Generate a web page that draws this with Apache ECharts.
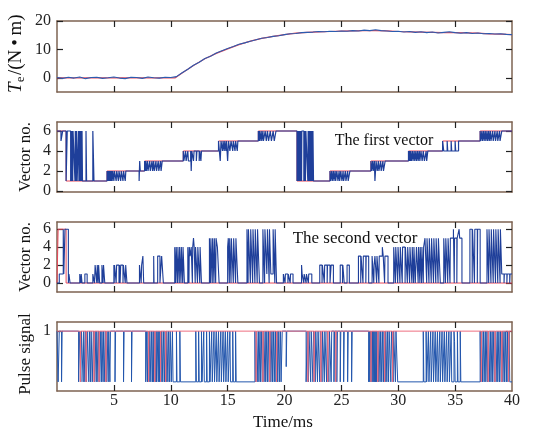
<!DOCTYPE html>
<html><head><meta charset="utf-8">
<script src="https://cdn.jsdelivr.net/npm/echarts@6/dist/echarts.min.js"></script>
<style>html,body{margin:0;padding:0;background:#fff}#c{width:555px;height:433px}</style>
</head><body><div id="c"></div>
<script>
// ---- data ----
var xTickLabels = [5,10,15,20,25,30,35,40];
var torqueTicks = [0,10,20];
var vectorTicks = [0,2,4,6];
var pulseTicks = [1];

var torqueBlue = [[0,0.1],[0.5,-0.2],[1,0.2],[1.5,-0.1],[2,0.3],[2.5,-0.3],[3,0.1],[3.5,0.2],[4,-0.2],[4.5,0.0],[5,0.3],[5.5,-0.1],[6,-0.3],[6.5,0.2],[7,0.1],[7.5,-0.2],[8,0.3],[8.5,0.0],[9,-0.1],[9.5,0.2],[10,0.1],[10.5,0.4],[11,1.8],[11.5,3.0],[12,4.4],[12.5,5.5],[13,6.8],[13.5,7.6],[14,8.7],[14.5,9.5],[15,10.3],[15.5,11.0],[16,11.8],[16.5,12.3],[17,12.9],[17.5,13.4],[18,13.9],[18.5,14.2],[19,14.6],[19.5,14.8],[20,15.2],[20.5,15.5],[21,15.6],[21.5,15.9],[22,16.0],[22.5,16.1],[23,16.3],[23.5,16.2],[24,16.4],[24.5,16.3],[25,16.5],[25.5,16.4],[26,16.6],[26.5,16.5],[27,16.8],[27.5,16.6],[28,16.9],[28.5,16.6],[29,16.5],[29.5,16.3],[30,16.4],[30.5,16.1],[31,16.3],[31.5,16.0],[32,16.2],[32.5,15.9],[33,16.1],[33.5,15.8],[34,16.0],[34.5,16.2],[35,15.9],[35.5,15.7],[36,15.9],[36.5,15.6],[37,15.8],[37.5,15.5],[38,15.6],[38.5,15.4],[39,15.5],[39.5,15.3],[40,15.2]];
var torqueRed = [[0,0],[10.4,0],[11,1.7],[12,4.3],[13,6.7],[14,8.6],[15,10.2],[16,11.7],[17,12.9],[18,13.9],[19,14.6],[20,15.2],[21,15.7],[22,16.0],[23,16.2],[24,16.3],[25,16.4],[26,16.5],[27,16.6],[28,16.6],[29,16.5],[30,16.3],[31,16.2],[32,16.1],[33,16.0],[34,15.9],[35,15.9],[36,15.8],[37,15.7],[38,15.5],[39,15.4],[40,15.2]];

var vec1Blue = [[0,6],[0.35,5],[0.5,6],
[0.8,1],[0.9,6],[1.2,1],[1.23,6],[1.26,1],[1.29,6],[1.32,1],[1.35,6],[1.38,1],[1.41,6],[1.58,1],[1.61,6],[1.64,1],[1.67,6],[1.7,1],[1.73,6],[1.77,1],[1.9,6],[1.93,1],[1.96,6],[1.99,1],[2.02,6],[2.05,1],[2.08,6],[2.11,1],[2.14,6],[2.17,1],[2.2,6],[2.24,1],
[2.55,6],[2.6,1],[3.15,6],[3.25,1],
[4.4,2],[4.45,1],[4.5,2],[4.55,1],[4.6,2],[4.65,1],[4.7,2],[4.75,1],[4.8,2],[4.85,1],[4.9,2],[5.0,1],[5.05,2],[5.2,1],[5.25,2],[5.4,1],[5.45,2],[5.6,1],[5.65,2],[5.8,1],[5.85,2],[6.0,1],[6.05,2],
[7.22,1],[7.27,3],[7.32,2],
[7.7,3],[7.75,2],[7.8,3],[7.85,2],[7.95,3],[8.0,2],[8.15,3],[8.2,2],[8.35,3],[8.4,2],[8.5,3],[8.55,2],[8.7,3],[8.75,2],[8.9,3],[8.95,2],[9.1,3],[9.15,2],[9.25,3],
[11.1,4],[11.15,3],[11.3,4],[11.35,3],[11.5,4],[11.55,3],[11.75,4],[11.8,2],[11.85,4],[12.0,3],[12.05,4],[12.25,3],[12.3,4],[12.5,3],[12.55,4],[12.65,3],[12.7,4],
[14.2,5],[14.35,3],[14.42,5],[14.55,4],[14.6,5],[14.7,4],[14.75,5],[14.85,4],[14.9,5],[15.0,3],[15.08,5],[15.2,4],[15.3,5],[15.45,4],[15.5,5],[15.65,4],[15.7,5],[15.85,4],[15.9,5],
[17.7,6],[17.75,5],[17.8,6],[17.85,5],[17.95,6],[18.0,5],[18.1,6],[18.15,5],[18.3,6],[18.4,5],[18.5,6],[18.6,5],[18.75,6],[18.85,5],[19.0,6],[19.1,5],[19.25,6],
[21.1,1],[21.13,6],[21.16,1],[21.2,6],[21.23,1],[21.27,6],[21.3,1],[21.34,6],[21.37,1],[21.41,6],[21.44,1],[21.48,6],[21.5,1],[21.52,6],[21.7,1],[21.73,6],[21.77,1],[21.8,6],[21.84,1],[21.88,6],[22.05,1],[22.08,6],[22.11,1],[22.14,6],[22.17,1],[22.2,6],[22.23,1],[22.26,6],[22.29,1],[22.32,6],[22.35,1],[22.38,6],[22.41,1],[22.44,6],[22.47,1],[22.5,6],[22.55,1],
[24.0,2],[24.05,1],[24.15,2],[24.2,1],[24.3,2],[24.35,1],[24.45,2],[24.5,1],[24.6,2],[24.7,1],[24.8,2],[24.85,1],[24.95,2],[25.05,1],[25.15,2],[25.2,1],[25.35,2],[25.4,1],[25.55,2],[25.6,1],[25.75,2],
[27.6,3],[27.65,2],[27.75,3],[27.8,2],[27.9,3],[27.95,1],[28.05,3],[28.15,2],[28.25,3],[28.3,2],[28.45,3],[28.5,2],[28.65,3],[28.7,2],[28.85,3],
[30.9,4],[30.95,3],[31.0,4],[31.05,3],[31.1,4],[31.15,3],[31.25,4],[31.3,3],[31.4,4],[31.45,3],[31.55,4],[31.6,3],[31.7,4],[31.75,3],[31.85,4],[31.9,3],[32.0,4],[32.1,3],[32.2,4],[32.3,3],[32.45,4],[32.5,3],[32.6,4],
[33.9,5],[34.0,4],[34.3,5],[34.35,4],[34.65,5],[34.7,4],[35.0,5],[35.05,4],[35.3,5],
[37.2,6],[37.25,5],[37.35,6],[37.4,5],[37.5,6],[37.55,5],[37.65,6],[37.7,5],[37.8,6],[37.85,5],[37.95,6],[38.0,5],[38.1,6],[38.15,5],[38.3,6],[38.35,5],[38.5,6],[38.55,5],[38.7,6],[38.75,5],[38.9,6],[38.95,5],[39.1,6],[40,6]];
var vec1Red = [[0,6],[0.8,1],[4.4,2],[7.7,3],[11.1,4],[14.2,5],[17.7,6],[21.1,1],[24,2],[27.6,3],[30.9,4],[33.9,5],[37.2,6],[40,6]];

var vec2Blue = [[0,0],[0.2,1],[0.55,6],[0.6,1],[0.7,6],[1.0,0],[1.05,1],[1.15,0],
[2.0,1],[2.1,0],[2.13,1],[2.2,0],[2.45,1],[2.65,0],
[3.15,1],[3.3,0],[3.35,2],[3.5,0],[3.54,2],[3.62,0],[3.66,2],[3.75,0],[3.95,2],[4.05,0],[4.09,2],[4.2,0],
[5.0,2],[5.03,0],[5.06,2],[5.2,0],[5.24,2],[5.45,0],[5.49,2],[5.55,0],[5.6,2],[5.8,0],[5.84,2],[6.0,0],[6.04,2],[6.15,0],
[7.25,2],[7.4,0],[7.44,2],[7.55,3],[7.62,0],
[8.5,3],[8.53,0],[8.85,3],[9.05,0],[9.2,3],[9.35,0],
[10.35,4],[10.45,0],[10.48,4],[10.6,0],[10.63,4],[10.75,0],[10.78,4],[10.9,0],[10.93,4],[11.05,0],[11.08,4],[11.2,0],
[11.5,4],[11.6,0],[11.63,4],[11.7,3],[11.8,4],[11.9,0],[11.93,4],[12.0,5],[12.06,4],[12.15,0],[12.18,4],[12.35,0],[12.38,4],[12.55,0],[12.58,4],[12.7,0],
[13.4,5],[13.5,0],[13.53,5],[13.65,0],[13.68,5],[13.8,0],[13.83,5],[13.95,0],[13.98,5],[14.1,4],[14.25,0],
[15.0,4],[15.06,5],[15.15,0],[15.18,5],[15.3,0],[15.33,5],[15.5,0],[15.53,5],[15.7,0],[15.73,5],[15.9,0],
[16.7,6],[16.8,0],[16.83,6],[17.0,0],[17.03,6],[17.2,0],[17.23,6],[17.4,0],[17.43,6],[17.6,0],[17.63,6],[17.8,0],
[18.1,6],[18.25,0],[18.28,6],[18.45,1],[18.5,6],[18.65,0],[18.68,6],[18.8,1],[19.0,6],[19.15,0],[19.18,6],[19.3,0],
[19.9,1],[20.05,0],[20.08,1],[20.3,0],[20.33,1],[20.5,0],[20.53,1],[20.75,0],
[21.5,2],[21.55,1],[21.7,0],[21.73,1],[21.9,0],[21.93,1],[22.1,0],[22.13,1],[22.4,0],
[23.1,2],[23.3,0],[23.33,2],[23.5,0],[23.53,2],[23.75,0],[23.78,2],[24.0,0],[24.1,2],[24.3,0],
[24.9,2],[25.1,0],[25.13,2],[25.25,0],[25.5,2],[25.7,0],
[26.5,3],[26.7,0],[26.73,3],[26.9,0],[26.93,3],[27.15,0],[27.18,3],[27.4,0],
[27.7,3],[27.85,0],[27.88,2],[27.95,3],[28.1,0],[28.13,3],[28.3,0],[28.33,3],[28.6,4],[28.68,3],[28.8,0],[28.83,3],[29.1,0],
[29.6,4],[29.75,0],[29.78,4],[29.95,0],[29.98,4],[30.15,0],[30.18,4],[30.35,0],[30.38,4],[30.6,0],[30.63,4],[30.8,0],[30.83,4],[31.0,0],[31.03,4],[31.2,0],[31.23,4],[31.35,0],[31.38,4],[31.5,0],
[31.6,4],[31.75,0],[31.78,4],[31.9,0],[31.93,4],[32.05,0],[32.08,4],[32.2,0],[32.23,4],[32.35,5],[32.5,0],[32.53,5],[32.7,0],[32.73,5],[32.9,0],[32.93,5],[33.1,0],[33.13,5],[33.3,0],[33.33,5],[33.5,0],[33.53,5],[33.7,0],
[34.0,5],[34.15,0],[34.18,5],[34.35,0],[34.38,5],[34.55,0],[34.58,5],[34.85,6],[34.92,0],[34.95,5],[35.15,0],[35.18,5],[35.35,6],[35.4,5],[35.6,0],
[36.3,6],[36.5,0],[36.53,6],[36.7,0],[36.73,6],[36.95,0],[36.98,6],[37.2,0],
[37.8,6],[37.95,0],[37.98,6],[38.15,0],[38.18,6],[38.35,0],[38.38,6],[38.55,0],[38.58,6],[38.75,0],[38.78,6],[38.95,0],[38.98,6],[39.1,1],[39.3,0],[39.33,1],[39.55,0],[39.58,1],[39.8,0],[39.83,1],[40,1]];
var vec2Red = [[0,0],[0.1,6],[0.8,0],[40,0]];

var pulseBlue = [[0,1],[0.1,0],[0.2,1],[0.4,0],[0.45,1],
[1.9,0],[1.95,1],[2.1,0],[2.15,1],[2.3,0],[2.35,1],[2.45,0],[2.5,1],[2.6,0],[2.65,1],[2.8,0],[2.85,1],[2.95,0],[3.0,1],[3.1,0],[3.2,1],[3.3,0],[3.35,1],[3.45,0],[3.5,1],[3.6,0],[3.65,1],[3.75,0],[3.8,1],[3.9,0],[3.95,1],[4.05,0],[4.1,1],[4.2,0],[4.25,1],[4.35,0],[4.4,1],[4.5,0],[4.55,1],[4.65,0],[4.7,1],
[5.1,0],[5.15,1],[5.85,0],[5.9,1],[6.55,0],[6.6,1],
[7.8,0],[7.85,1],[7.95,0],[8.0,1],[8.1,0],[8.15,1],[8.25,0],[8.3,1],[8.4,0],[8.45,1],[8.5,0],[8.55,1],[8.65,0],[8.7,1],[8.75,0],[8.8,1],[8.9,0],[8.95,1],[9.0,0],[9.05,1],[9.15,0],[9.2,1],[9.3,0],[9.35,1],[9.45,0],[9.5,1],[9.6,0],[9.65,1],[9.75,0],[9.8,1],[9.9,0],[9.95,1],[10.05,0],
[10.15,1],[10.2,0],[10.5,1],[10.55,0],[10.8,1],[10.85,0],
[12.2,1],[12.25,0],[12.45,1],[12.5,0],[12.7,1],[12.75,0],[12.9,1],[12.95,0],[13.15,1],[13.2,0],[13.4,1],[13.45,0],[13.6,1],[13.65,0],[13.8,1],[13.85,0],[14.0,1],[14.05,0],[14.2,1],[14.25,0],[14.4,1],[14.45,0],[14.6,1],[14.65,0],[14.8,1],[14.85,0],[15.0,1],[15.05,0],[15.2,1],[15.25,0],[15.45,1],[15.5,0],[15.7,1],[15.75,0],
[17.4,1],[17.45,0],[17.55,1],[17.6,0],[17.7,1],[17.75,0],[17.85,1],[17.9,0],[18.0,1],[18.05,0],[18.15,1],[18.2,0],[18.3,1],[18.35,0],[18.45,1],[18.5,0],[18.6,1],[18.65,0],[18.75,1],[18.8,0],[18.9,1],[18.95,0],[19.05,1],[19.1,0],[19.2,1],[19.25,0],[19.35,1],[19.4,0],[19.5,1],[19.55,0],[19.65,1],[19.7,0],[19.8,1],
[20.15,0.3],[20.2,1],
[21.9,0],[22.0,1],[22.1,0],[22.15,1],[22.3,0],[22.35,1],[22.5,0],[22.55,1],[22.7,0],[22.75,1],[22.9,0],[22.95,1],[23.1,0],[23.15,1],[23.3,0],[23.35,1],[23.5,0],[23.55,1],[23.7,0],[23.75,1],[23.9,0],[23.95,1],[24.1,0],[24.15,1],[24.35,0],[24.4,1],[24.6,0],[24.65,1],[24.9,0],[24.95,1],[25.2,0],[25.25,1],[25.55,0],[25.6,1],[25.9,0],[25.95,1],
[27.4,0],[27.45,1],[27.5,0],[27.55,1],[27.6,0],[27.65,1],[27.7,0],[27.75,1],[27.8,0],[27.85,1],[27.9,0],[27.95,1],[28.0,0],[28.05,1],[28.1,0],[28.15,1],[28.25,0],[28.3,1],[28.4,0],[28.45,1],[28.55,0],[28.6,1],[28.7,0],[28.75,1],[28.85,0],[28.9,1],[29.0,0],[29.05,1],[29.15,0],[29.2,1],[29.35,0],[29.4,1],[29.55,0],[29.6,1],[29.75,0],[29.8,1],[29.95,0],
[32.2,1],[32.25,0],[32.45,1],[32.5,0],[32.65,1],[32.7,0],[32.85,1],[32.9,0],[33.05,1],[33.1,0],[33.25,1],[33.3,0],[33.45,1],[33.5,0],[33.65,1],[33.7,0],[33.85,1],[33.9,0],[34.05,1],[34.1,0],[34.25,1],[34.3,0],[34.45,1],[34.5,0],[34.65,1],[34.7,0],[34.9,1],[34.95,0.8],[35.0,0],[35.2,1],[35.25,0],[35.45,1],[35.5,0],
[37.2,1],[37.25,0],[37.35,1],[37.4,0],[37.5,1],[37.55,0],[37.65,1],[37.7,0],[37.8,1],[37.85,0],[37.95,1],[38.0,0],[38.1,1],[38.15,0],[38.25,1],[38.3,0],[38.4,1],[38.45,0],[38.55,1],[38.6,0],[38.7,1],[38.75,0],[38.85,1],[38.9,0],[39.0,1],[39.05,0],[39.15,1],[39.2,0],[39.3,1],[39.35,0],[39.45,1],[39.5,0],[39.6,1],[39.65,0],[39.75,1],[39.8,0],[40,0]];
var pulseRed = [[0,1],[2.05,0],[2.08,1],[2.55,0],[2.58,1],[3.25,0],[3.28,1],[3.7,0],[3.73,1],[4.3,0],[4.33,1],
[8.05,0],[8.08,1],[8.6,0],[8.63,1],[9.1,0],[9.13,1],[9.55,0],[9.58,1],
[17.5,0],[17.53,1],[18.1,0],[18.13,1],[18.7,0],[18.73,1],[19.3,0],[19.33,1],
[22.05,0],[22.08,1],[22.6,0],[22.63,1],[23.2,0],[23.23,1],[23.8,0],[23.83,1],[24.5,0],[24.53,1],
[27.6,0],[27.63,1],[28.2,0],[28.23,1],[28.8,0],[28.83,1],[29.5,0],[29.53,1],
[37.3,0],[37.33,1],[37.9,0],[37.93,1],[38.5,0],[38.53,1],[39.1,0],[39.13,1],[39.7,0],[39.73,1],[40,1]];

// ---- layout ----
var FONT = '"Liberation Serif","DejaVu Serif",serif';
var FRAME = '#7d6352';
var BLUE = '#1f3f9a';
var RED = '#e8485a';
var grids = [
  {left:57, right:43, top:21, height:71},
  {left:57, right:43, top:122, height:70},
  {left:57, right:43, top:222, height:70},
  {left:57, right:43, top:322, height:69}
];
var yRanges = [[-5,20],[-0.1,6.9],[-1,6.8],[-0.18,1.18]];
var yTicks = [torqueTicks, vectorTicks, vectorTicks, pulseTicks];

var xAxes = [], yAxes = [];
grids.forEach(function(g, i){
  ['bottom','top'].forEach(function(pos){
    xAxes.push({
      type:'value', gridIndex:i, position:pos, min:0, max:40, interval:5,
      axisLine:{show:true, onZero:false, lineStyle:{color:FRAME, width:1.5}},
      axisTick:{show:true, inside:true, length:6, lineStyle:{color:'#222', width:1.2}, customValues:[5,10,15,20,25,30,35]},
      axisLabel:{show:(i===3 && pos==='bottom'), margin:2, color:'#222', fontFamily:FONT, fontSize:16, customValues:xTickLabels},
      splitLine:{show:false}
    });
  });
  ['left','right'].forEach(function(pos){
    yAxes.push({
      type:'value', gridIndex:i, position:pos, min:yRanges[i][0], max:yRanges[i][1],
      axisLine:{show:true, onZero:false, lineStyle:{color:FRAME, width:1.5}},
      axisTick:{show:true, inside:true, length:6, lineStyle:{color:'#222', width:1.2}, customValues:yTicks[i]},
      axisLabel:{show:pos==='left', margin:6, color:'#222', fontFamily:FONT, fontSize:16, customValues:yTicks[i]},
      splitLine:{show:false}
    });
  });
});

function mk(data, color, width, gi, z, step){
  return {type:'line', xAxisIndex:gi*2, yAxisIndex:gi*2, data:data, step:step, symbol:'none',
    lineStyle:{color:color, width:width}, z:z, animation:false, silent:true};
}
var series = [
  mk(torqueRed, RED, 1.2, 0, 2, false),
  mk(torqueBlue, '#2a5cb0', 1.1, 0, 3, false),
  mk(vec1Red, RED, 1, 1, 2, 'end'),
  mk(vec1Blue, BLUE, 1.2, 1, 3, 'end'),
  mk(vec2Red, RED, 1, 2, 2, 'end'),
  mk(vec2Blue, BLUE, 1.1, 2, 3, 'end'),
  mk(pulseRed, '#ee6f80', 1, 3, 4, 'end'),
  mk(pulseBlue, '#2356ad', 1, 3, 3, 'end')
];

var txt = function(x,y,text,size,rot){
  return {type:'text', x:x, y:y, rotation:rot||0, style:{text:text, fontFamily:FONT, fontSize:size, fill:'#111', align:'center', verticalAlign:'middle'}};
};
var graphic = [
  {type:'group', x:16, y:93, rotation:Math.PI/2, children:[
    {type:'text', x:0, y:0, style:{text:'T', fontFamily:FONT, fontStyle:'italic', fontSize:19, fill:'#111', align:'left', verticalAlign:'middle'}},
    {type:'text', x:11, y:5, style:{text:'e', fontFamily:FONT, fontSize:12, fill:'#111', align:'left', verticalAlign:'middle'}},
    {type:'text', x:18, y:0, style:{text:'/(N\u2009•\u2009m)', fontFamily:FONT, fontSize:19, fill:'#111', align:'left', verticalAlign:'middle'}}
  ]},
  txt(26,157,'Vector no.',17,Math.PI/2),
  txt(26,257,'Vector no.',17,Math.PI/2),
  txt(26,354,'Pulse signal',17,Math.PI/2),
  txt(283,423,'Time/ms',17,0),
  txt(384,141,'The first vector',16,0),
  txt(355,239,'The second vector',17,0)
];

var chart = echarts.init(document.getElementById('c'), null, {renderer:'canvas'});
chart.setOption({
  animation:false,
  backgroundColor:'#fff',
  grid:grids, xAxis:xAxes, yAxis:yAxes, series:series, graphic:graphic
});
</script></body></html>
